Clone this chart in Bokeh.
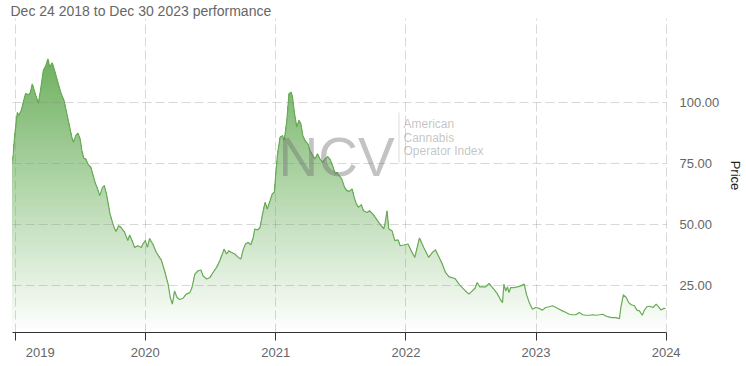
import numpy as np
import pandas as pd
from bokeh.plotting import figure
from bokeh.models import (Range1d, FixedTicker, DatetimeTickFormatter,
                          NumeralTickFormatter, Label, BoxAnnotation)
from bokeh.embed import file_html
from bokeh.resources import INLINE

# ---------------- data ----------------
title_text = "Dec 24 2018 to Dec 30 2023 performance"
base_date = "2019-01-01"

# days after 2019-01-01
day_offsets = [
    -8, -1, 6, 10, 17, 24, 29, 39, 43, 48, 55, 65, 71, 79, 86, 92, 97, 104, 112, 121,
    129, 137, 143, 151, 159, 163, 170, 176, 182, 187, 192, 198, 205, 212, 219, 224, 231, 237, 245, 250,
    256, 262, 266, 273, 279, 283, 290, 297, 307, 316, 321, 328, 335, 344, 354, 358, 365, 371, 377, 387,
    396, 410, 419, 429, 435, 441, 447, 454, 461, 471, 480, 490, 496, 504, 513, 521, 527, 537, 546, 555,
    565, 574, 586, 593, 599, 607, 616, 626, 633, 640, 646, 654, 661, 668, 672, 680, 687, 693, 701, 707,
    715, 721, 727, 731, 736, 743, 750, 755, 762, 768, 774, 778, 783, 790, 796, 801, 807, 813, 821, 827,
    835, 841, 848, 855, 863, 869, 877, 884, 890, 898, 902, 909, 916, 924, 930, 938, 945, 951, 957, 963,
    971, 977, 987, 994, 1003, 1010, 1020, 1027, 1034, 1038, 1043, 1048, 1057, 1065, 1074, 1080, 1090, 1102, 1111, 1121,
    1134, 1146, 1160, 1170, 1179, 1187, 1198, 1207, 1217, 1226, 1235, 1245, 1254, 1263, 1273, 1282, 1290, 1296, 1303, 1312,
    1320, 1329, 1337, 1343, 1353, 1362, 1367, 1371, 1376, 1381, 1385, 1390, 1400, 1409, 1418, 1428, 1434, 1442, 1451, 1460,
    1470, 1479, 1488, 1498, 1507, 1517, 1526, 1535, 1545, 1554, 1564, 1573, 1582, 1592, 1601, 1611, 1620, 1629, 1639, 1648,
    1657, 1667, 1676, 1685, 1695, 1699, 1706, 1714, 1721, 1728, 1737, 1744, 1751, 1759, 1765, 1772, 1779, 1789, 1798, 1806,
    1811, 1816, 1820, 1824,
]

price = [
    75.0, 87.0, 96.0, 94.8, 96.8, 101.0, 103.7, 103.4, 104.4, 107.8, 104.4, 99.8, 105.0, 113.3, 115.4, 118.1, 114.7, 116.5, 112.6, 107.8,
    103.7, 101.0, 96.8, 91.3, 85.8, 83.8, 86.5, 87.5, 85.2, 80.3, 77.3, 76.9, 74.6, 73.5, 70.0, 67.3, 64.6, 61.8, 65.2, 65.9,
    62.5, 57.7, 54.3, 50.8, 48.2, 47.1, 49.4, 48.7, 46.7, 43.3, 45.6, 43.3, 40.5, 41.2, 40.5, 41.9, 43.3, 40.5, 44.2, 41.6,
    38.4, 35.3, 30.9, 25.4, 19.9, 17.2, 22.6, 19.9, 19.1, 19.6, 21.3, 21.9, 24.0, 29.5, 30.9, 31.2, 28.8, 27.5, 28.1, 30.2,
    32.3, 35.0, 39.8, 37.8, 39.1, 38.4, 37.8, 36.4, 35.7, 39.8, 41.9, 42.6, 41.6, 44.6, 48.1, 47.7, 48.7, 53.6, 59.0, 56.3,
    59.7, 62.5, 63.2, 70.7, 79.0, 85.8, 86.5, 84.5, 92.7, 103.7, 104.4, 102.3, 96.1, 90.0, 92.7, 91.5, 86.5, 84.5, 83.1, 80.3,
    78.3, 76.9, 79.0, 76.9, 75.5, 76.9, 77.9, 76.5, 74.2, 70.7, 71.4, 70.0, 68.7, 65.2, 63.9, 63.6, 64.6, 61.1, 58.4, 57.0,
    58.1, 55.6, 54.9, 55.6, 54.3, 52.9, 50.8, 49.4, 48.1, 50.8, 55.6, 48.1, 47.4, 43.3, 43.6, 41.2, 41.5, 41.9, 39.1, 36.4,
    44.4, 40.5, 36.4, 38.4, 39.5, 37.1, 33.7, 30.2, 28.4, 28.1, 27.5, 25.4, 24.0, 22.6, 21.3, 22.6, 23.7, 26.1, 24.3, 24.3,
    24.3, 25.7, 24.3, 23.3, 21.3, 18.8, 17.8, 25.4, 22.6, 24.3, 21.9, 24.0, 24.0, 24.3, 24.7, 25.4, 21.3, 17.8, 15.1, 15.8,
    15.4, 14.7, 15.8, 16.1, 16.5, 15.8, 15.1, 14.4, 13.7, 13.0, 12.8, 12.8, 13.7, 12.8, 12.6, 12.6, 12.8, 12.6, 12.8, 13.0,
    12.3, 11.8, 11.6, 11.6, 11.2, 15.8, 21.0, 19.9, 17.8, 16.9, 16.5, 14.7, 14.4, 12.6, 14.7, 16.1, 16.3, 15.8, 17.2, 15.8,
    14.8, 15.1, 15.5, 15.3,
]

year_ticks = ["2019-01-01", "2020-01-01", "2021-01-01", "2022-01-01", "2023-01-01", "2024-01-01"]
year_labels = ["2019", "2020", "2021", "2022", "2023", "2024"]
price_ticks = [25, 50, 75, 100]
x_start, x_end = "2018-12-24 12:00", "2024-01-02"
y_min, y_max = 5.5, 134.7

watermark_big = "NCV"
watermark_lines = ["American", "Cannabis", "Operator Index"]

# ---------------- figure ----------------
dates = pd.to_datetime(base_date) + pd.to_timedelta(day_offsets, unit="D")
vals = np.array(price, dtype=float)

FONT = "Liberation Sans"
p = figure(width=746, height=366, x_axis_type="datetime", y_axis_location="right",
           x_range=Range1d(pd.Timestamp(x_start), pd.Timestamp(x_end)),
           y_range=Range1d(y_min, y_max), title=title_text,
           output_backend="svg", toolbar_location=None,
           min_border_left=12, min_border_right=80, min_border_top=0, min_border_bottom=34)
p.outline_line_color = None
p.background_fill_color = "white"
p.border_fill_color = "white"

# title (top-left, grey, plain)
p.title.align = "left"
p.title.offset = -2
p.title.standoff = 0
p.title.text_font = FONT
p.title.text_font_size = "14px"
p.title.text_font_style = "normal"
p.title.text_color = "#666666"

# x axis
year_ms = [pd.Timestamp(s).value // 10**6 for s in year_ticks]
xt = FixedTicker(ticks=year_ms)
xa = p.xaxis[0]
xa.ticker = xt
xa.formatter = DatetimeTickFormatter(years="%Y", months="%Y", days="%Y", hours="%Y",
                                     minutes="%Y", seconds="%Y", milliseconds="%Y")
overrides = {ms: lab for ms, lab in zip(year_ms, year_labels)}
overrides[year_ms[0]] = "\u00a0" * 7 + year_labels[0]   # first label kept inside the chart
xa.major_label_overrides = overrides
xa.axis_line_color = "#333333"
xa.major_tick_line_color = "#333333"
xa.major_tick_out = 8
xa.major_tick_in = 0
xa.minor_tick_line_color = None
xa.major_label_text_color = "#666666"
xa.major_label_text_font = FONT
xa.major_label_text_font_size = "13px"
xa.major_label_standoff = 4
p.xgrid.ticker = xt

# y axis
yt = FixedTicker(ticks=price_ticks)
ya = p.yaxis[0]
ya.ticker = yt
ya.formatter = NumeralTickFormatter(format="0.00")
ya.axis_line_color = None
ya.major_tick_line_color = None
ya.minor_tick_line_color = None
ya.major_label_text_color = "#666666"
ya.major_label_text_font = FONT
ya.major_label_text_font_size = "13px"
ya.major_label_standoff = 7
ya.axis_label = "Price"
ya.axis_label_text_font = FONT
ya.axis_label_text_font_size = "13px"
ya.axis_label_text_font_style = "normal"
ya.axis_label_text_color = "#222222"
ya.axis_label_standoff = 6
p.ygrid.ticker = yt

for g in (p.xgrid, p.ygrid):
    g.grid_line_color = "#888888"
    g.grid_line_alpha = 0.33
    g.grid_line_dash = "9 4"
    g.grid_line_width = 1
    g.level = "guide"

# gradient area: nested opaque areas under the curve, each capped at a level,
# colour going from green (high) to white (low)
n_levels = 140
tops = np.linspace(y_min, y_max, n_levels + 1)[1:]
step = tops[1] - tops[0]
G = np.array([60, 150, 40])
first = True
for top in tops[::-1]:
    if top > vals.max() + step and not first:
        continue
    tt = (top - 0.5 * step - y_min) / (y_max - y_min)
    ai = 0.85 * tt
    col = "#%02x%02x%02x" % tuple(int(round(255 * (1 - ai) + G[j] * ai)) for j in range(3))
    p.varea(x=dates, y1=np.full_like(vals, y_min), y2=np.minimum(vals, top), fill_color=col)
    first = False

p.line(dates, vals, line_color="#6aab58", line_width=1.2)

# watermark
p.add_layout(Label(x=266, y=176, x_units="screen", y_units="screen", text=watermark_big,
                   text_font=FONT, text_font_size="55px", text_color="#6f6f6f", text_alpha=0.42,
                   text_baseline="alphabetic"))
p.add_layout(BoxAnnotation(left=386, right=387, bottom=170, top=220,
                           left_units="screen", right_units="screen",
                           bottom_units="screen", top_units="screen",
                           fill_color="#8a8a8a", fill_alpha=0.3, line_color=None))
for txt, yy in zip(watermark_lines, [208.7, 194.7, 181.3]):
    p.add_layout(Label(x=391, y=yy, x_units="screen", y_units="screen", text=txt,
                       text_font=FONT, text_font_size="12px", text_color="#6f6f6f",
                       text_alpha=0.42, text_baseline="middle"))

open("out.html", "w").write(file_html(p, INLINE))
